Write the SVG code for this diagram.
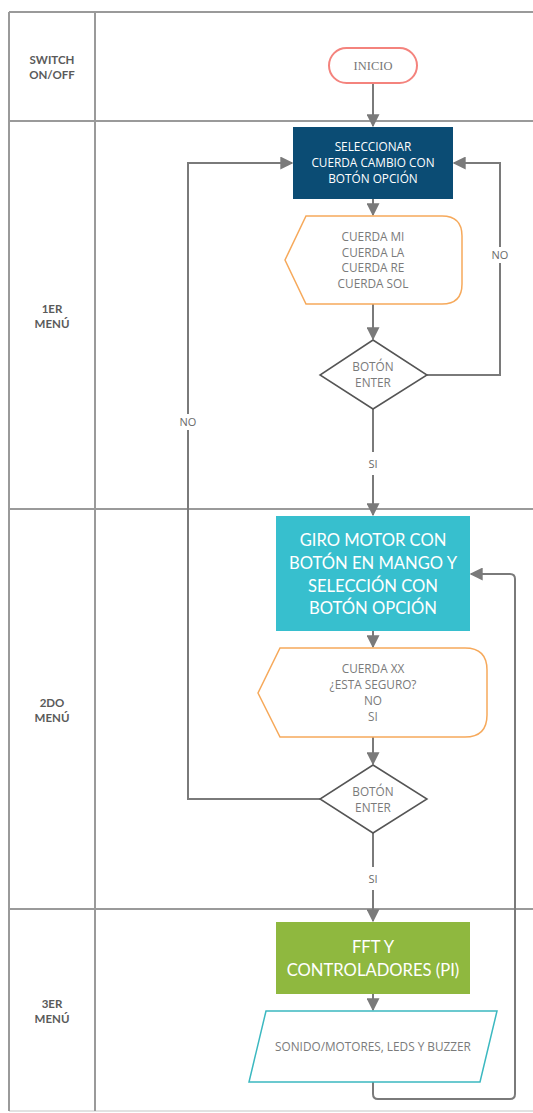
<svg xmlns="http://www.w3.org/2000/svg" width="533" height="1113" viewBox="0 0 533 1113">
<style>
.frame{stroke:#9a9a9a;stroke-width:2;fill:none}
.lane{font-family:Lato,"Open Sans",sans-serif;font-weight:bold;font-size:11.5px;fill:#5a5a5a;text-anchor:middle}
.t{font-family:"Open Sans",sans-serif;font-size:11.8px;fill:#7a7a7a;text-anchor:middle}
.w{font-family:"Open Sans",sans-serif;font-size:11.8px;fill:#ffffff;text-anchor:middle}
.big{font-family:Lato,"Open Sans",sans-serif;font-size:16.6px;fill:#ffffff;text-anchor:middle}
.c{stroke:#7a7a7a;stroke-width:2;fill:none}
.lbl{font-family:"Open Sans",sans-serif;font-size:11px;fill:#6a6a6a;text-anchor:middle}
</style>
<defs>
<marker id="ah2" viewBox="0 0 10 10" refX="9" refY="5" markerWidth="13" markerHeight="13" orient="auto" markerUnits="userSpaceOnUse">
<path d="M0,0 L10,5 L0,10 z" fill="#7a7a7a"/>
</marker>
</defs>
<rect width="533" height="1113" fill="#ffffff"/>
<g id="frame">
<line class="frame" x1="9" y1="12" x2="533" y2="12"/>
<line class="frame" x1="9" y1="121" x2="533" y2="121"/>
<line class="frame" x1="9" y1="509" x2="533" y2="509"/>
<line class="frame" x1="9" y1="909" x2="533" y2="909"/>
<line x1="9" y1="1111" x2="533" y2="1111" stroke="#e2e2e2" stroke-width="2"/>
<line class="frame" x1="9" y1="12" x2="9" y2="1111"/>
<line class="frame" x1="95" y1="12" x2="95" y2="1111"/>
</g>
<g id="lane-labels">
<text class="lane" x="52" y="64">SWITCH</text>
<text class="lane" x="52" y="79">ON/OFF</text>
<text class="lane" x="52" y="313">1ER</text>
<text class="lane" x="52" y="328">MENÚ</text>
<text class="lane" x="52" y="707">2DO</text>
<text class="lane" x="52" y="722">MENÚ</text>
<text class="lane" x="52" y="1008">3ER</text>
<text class="lane" x="52" y="1023">MENÚ</text>
</g>
<g id="connectors">
<line class="c" x1="373" y1="83" x2="373" y2="126" marker-end="url(#ah2)"/>
<line class="c" x1="373" y1="199" x2="373" y2="215" marker-end="url(#ah2)"/>
<line class="c" x1="373" y1="304" x2="373" y2="339" marker-end="url(#ah2)"/>
<polyline class="c" points="427,375 500,375 500,163 454,163" marker-end="url(#ah2)"/>
<line class="c" x1="373" y1="409" x2="373" y2="452"/>
<line class="c" x1="373" y1="475" x2="373" y2="515" marker-end="url(#ah2)"/>
<polyline class="c" points="320,799 188,799 188,163 292,163" marker-end="url(#ah2)"/>
<line class="c" x1="373" y1="631" x2="373" y2="647" marker-end="url(#ah2)"/>
<line class="c" x1="373" y1="737" x2="373" y2="764" marker-end="url(#ah2)"/>
<line class="c" x1="373" y1="833" x2="373" y2="867"/>
<line class="c" x1="373" y1="890" x2="373" y2="921" marker-end="url(#ah2)"/>
<line class="c" x1="373" y1="994" x2="373" y2="1010" marker-end="url(#ah2)"/>
<path class="c" d="M373,1082 L373,1094 Q373,1099 378,1099 L510,1099 Q515,1099 515,1094 L515,579 Q515,574 510,574 L471,574" marker-end="url(#ah2)"/>
<rect x="175" y="414" width="26" height="16" fill="#ffffff"/>
<text class="lbl" x="188" y="426">NO</text>
<rect x="487" y="247" width="26" height="16" fill="#ffffff"/>
<text class="lbl" x="500" y="259">NO</text>
<text class="lbl" x="373" y="468">SI</text>
<text class="lbl" x="373" y="883">SI</text>
</g>
<g id="inicio">
<rect x="329" y="48" width="88" height="35" rx="17.5" fill="#ffffff" stroke="#f4837d" stroke-width="2"/>
<text x="373" y="70" font-family="'Liberation Serif',serif" font-size="12.5px" fill="#777777" text-anchor="middle">INICIO</text>
</g>
<g id="seleccionar">
<rect x="293" y="127" width="160" height="72" fill="#0b4c74"/>
<text class="w" x="373" y="151">SELECCIONAR</text>
<text class="w" x="373" y="167">CUERDA CAMBIO CON</text>
<text class="w" x="373" y="183">BOTÓN OPCIÓN</text>
</g>
<g id="display1">
<path d="M306,216 L442,216 Q462,216 462,236 L462,284 Q462,304 442,304 L306,304 L285,260 Z" fill="#ffffff" stroke="#f6a95b" stroke-width="1.5"/>
<text class="t" x="373" y="241">CUERDA MI</text>
<text class="t" x="373" y="257">CUERDA LA</text>
<text class="t" x="373" y="272">CUERDA RE</text>
<text class="t" x="373" y="288">CUERDA SOL</text>
</g>
<g id="decision1">
<polygon points="373,340 427,375 373,409 320,375" fill="#ffffff" stroke="#555555" stroke-width="1.5"/>
<text class="t" x="373" y="371">BOTÓN</text>
<text class="t" x="373" y="387">ENTER</text>
</g>
<g id="giro">
<rect x="276" y="516" width="194" height="115" fill="#37bfce"/>
<text class="big" x="373" y="546">GIRO MOTOR CON</text>
<text class="big" x="373" y="569">BOTÓN EN MANGO Y</text>
<text class="big" x="373" y="592">SELECCIÓN CON</text>
<text class="big" x="373" y="614">BOTÓN OPCIÓN</text>
</g>
<g id="display2">
<path d="M280,648 L465,648 Q487,648 487,670 L487,715 Q487,737 465,737 L280,737 L258,693 Z" fill="#ffffff" stroke="#f6a95b" stroke-width="1.5"/>
<text class="t" x="373" y="673">CUERDA XX</text>
<text class="t" x="373" y="689">¿ESTA SEGURO?</text>
<text class="t" x="373" y="705">NO</text>
<text class="t" x="373" y="721">SI</text>
</g>
<g id="decision2">
<polygon points="373,765 427,799 373,833 320,799" fill="#ffffff" stroke="#555555" stroke-width="1.5"/>
<text class="t" x="373" y="796">BOTÓN</text>
<text class="t" x="373" y="812">ENTER</text>
</g>
<g id="fft">
<rect x="276" y="922" width="194" height="72" fill="#8fb83f"/>
<text class="big" x="373" y="953">FFT Y</text>
<text class="big" x="373" y="976">CONTROLADORES (PI)</text>
</g>
<g id="salida">
<polygon points="266,1011 497,1011 480,1082 249,1082" fill="#ffffff" stroke="#3bb8c0" stroke-width="1.5"/>
<text class="t" x="373" y="1051">SONIDO/MOTORES, LEDS Y BUZZER</text>
</g>
</svg>
